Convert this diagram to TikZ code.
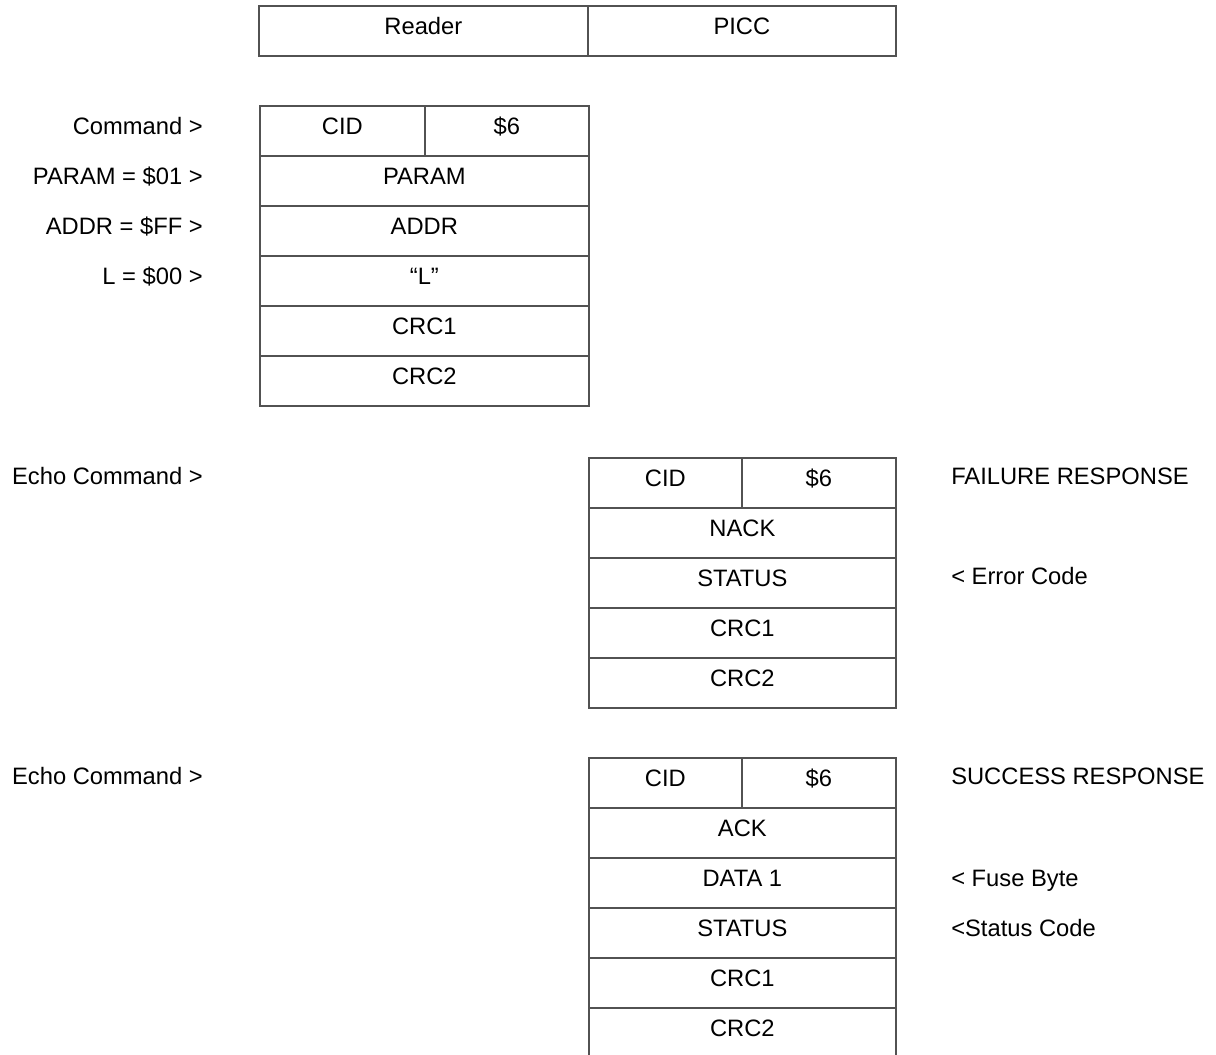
\documentclass[tikz,border=0pt]{standalone}
\usepackage{fontspec}
\setmainfont{Liberation Sans}
\begin{document}
\begin{tikzpicture}[x=0.75pt,y=-0.75pt,
  cell/.style={draw=black!68, line width=1.3pt, anchor=north west, inner sep=0pt,
    minimum height=37.5pt, font=\fontsize{17.8pt}{20pt}\selectfont, text height=1.35ex, text depth=0.25ex},
  lab/.style={inner sep=0pt, font=\fontsize{17.8pt}{20pt}\selectfont, text height=1.35ex, text depth=0.25ex}]
\clip (0,0) rectangle (1216,1055);
\useasboundingbox (0,0) rectangle (1216,1055);
% header
\node[cell, minimum width=246.75pt] (reader) at (258,5) {Reader};
\node[cell, minimum width=231pt] (picc) at (587,5) {PICC};
% command
\node[cell, minimum width=123.75pt] (ccid) at (259,105) {CID};
\node[cell, minimum width=123pt] (c6) at (424,105) {\$6};
\node[cell, minimum width=246.75pt] (cparam) at (259,155) {PARAM};
\node[cell, minimum width=246.75pt] (caddr) at (259,205) {ADDR};
\node[cell, minimum width=246.75pt] (cl) at (259,255) {“L”};
\node[cell, minimum width=246.75pt] (ccrc1) at (259,305) {CRC1};
\node[cell, minimum width=246.75pt] (ccrc2) at (259,355) {CRC2};
\node[lab, anchor=east] (lcmd) at (203,131) {Command >};
\node[lab, anchor=east] (lparam) at (203,181) {PARAM = \$01 >};
\node[lab, anchor=east] (laddr) at (203,231) {ADDR = \$FF >};
\node[lab, anchor=east] (ll) at (203,281) {L = \$00 >};
% failure
\node[cell, minimum width=114.75pt] (fcid) at (588,457) {CID};
\node[cell, minimum width=115.5pt] (f6) at (741,457) {\$6};
\node[cell, minimum width=230.25pt] (fnack) at (588,507) {NACK};
\node[cell, minimum width=230.25pt] (fstat) at (588,557) {STATUS};
\node[cell, minimum width=230.25pt] (fcrc1) at (588,607) {CRC1};
\node[cell, minimum width=230.25pt] (fcrc2) at (588,657) {CRC2};
\node[lab, anchor=east] (lecho1) at (203,481) {Echo Command >};
\node[lab, anchor=west] (lfail) at (951,481) {FAILURE RESPONSE};
\node[lab, anchor=west] (lerr) at (951,581) {< Error Code};
% success
\node[cell, minimum width=114.75pt] (scid) at (588,757) {CID};
\node[cell, minimum width=115.5pt] (s6) at (741,757) {\$6};
\node[cell, minimum width=230.25pt] (sack) at (588,807) {ACK};
\node[cell, minimum width=230.25pt] (sdata) at (588,857) {DATA 1};
\node[cell, minimum width=230.25pt] (sstat) at (588,907) {STATUS};
\node[cell, minimum width=230.25pt] (scrc1) at (588,957) {CRC1};
\node[cell, minimum width=230.25pt] (scrc2) at (588,1007) {CRC2};
\node[lab, anchor=east] (lecho2) at (203,781) {Echo Command >};
\node[lab, anchor=west] (lsucc) at (951,781) {SUCCESS RESPONSE};
\node[lab, anchor=west] (lfuse) at (951,883) {< Fuse Byte};
\node[lab, anchor=west] (lstat) at (951,933) {<Status Code};
\end{tikzpicture}
\end{document}
